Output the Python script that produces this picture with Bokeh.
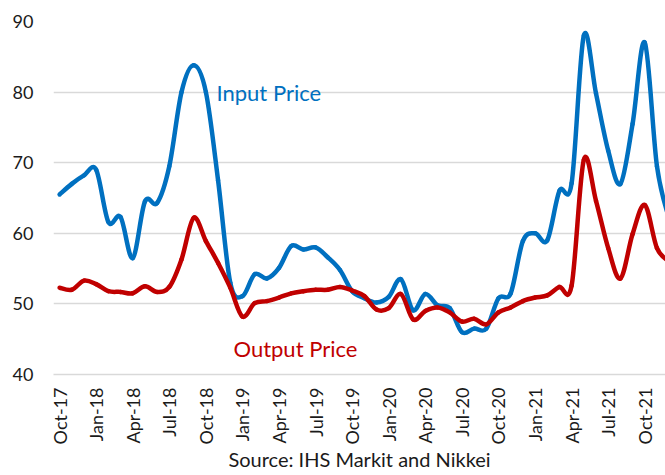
import math
from bokeh.plotting import figure
from bokeh.models import FixedTicker, Range1d
from bokeh.core.properties import value
from bokeh.embed import file_html
from bokeh.resources import INLINE

months = ["Oct-17", "Nov-17", "Dec-17",
          "Jan-18", "Feb-18", "Mar-18", "Apr-18", "May-18", "Jun-18",
          "Jul-18", "Aug-18", "Sep-18", "Oct-18", "Nov-18", "Dec-18",
          "Jan-19", "Feb-19", "Mar-19", "Apr-19", "May-19", "Jun-19",
          "Jul-19", "Aug-19", "Sep-19", "Oct-19", "Nov-19", "Dec-19",
          "Jan-20", "Feb-20", "Mar-20", "Apr-20", "May-20", "Jun-20",
          "Jul-20", "Aug-20", "Sep-20", "Oct-20", "Nov-20", "Dec-20",
          "Jan-21", "Feb-21", "Mar-21", "Apr-21", "May-21", "Jun-21",
          "Jul-21", "Aug-21", "Sep-21", "Oct-21", "Nov-21", "Dec-21"]

input_price = [65.5, 67.0, 68.2,
               69.0, 61.6, 62.3, 56.5, 64.5, 64.3,
               69.5, 80.0, 83.8, 80.0, 67.5, 53.0,
               51.1, 54.2, 53.6, 55.1, 58.2, 57.7,
               58.0, 56.6, 54.8, 51.8, 50.8, 50.2,
               51.0, 53.5, 49.1, 51.4, 49.8, 49.4,
               46.0, 46.5, 46.5, 50.8, 51.5, 58.9,
               60.0, 59.0, 66.0, 67.1, 88.0, 79.8,
               71.7, 67.0, 75.5, 87.0, 69.5, 62.0]

output_price = [52.3, 52.0, 53.3,
                52.8, 51.8, 51.7, 51.5, 52.5, 51.7,
                52.4, 56.3, 62.2, 58.9, 55.8, 52.3,
                48.2, 50.1, 50.4, 50.9, 51.5, 51.8,
                52.0, 52.0, 52.4, 51.9, 51.1, 49.2,
                49.4, 51.4, 47.8, 49.0, 49.5, 48.8,
                47.5, 47.9, 47.1, 48.8, 49.5, 50.4,
                50.9, 51.2, 52.4, 52.6, 70.4, 64.6,
                57.9, 53.6, 59.9, 64.0, 57.9, 56.0]

tick_labels = ["Oct-17", "Jan-18", "Apr-18", "Jul-18", "Oct-18", "Jan-19",
               "Apr-19", "Jul-19", "Oct-19", "Jan-20", "Apr-20", "Jul-20",
               "Oct-20", "Jan-21", "Apr-21", "Jul-21", "Oct-21"]

y_ticks = [40, 50, 60, 70, 80, 90]

series_names = ["Input Price", "Output Price"]
series_colors = ["#0070C0", "#C00000"]
label_pos = [(12.87, 80.0), (14.26, 43.7)]

source_text = "Source: IHS Markit and Nikkei"

FONT = "Lato"

p = figure(width=665, height=475, output_backend="svg", toolbar_location=None,
           x_range=Range1d(-0.5, 49.7), y_range=Range1d(40, 90),
           min_border_left=53, min_border_right=0, min_border_top=21,
           min_border_bottom=101)
p.outline_line_color = None
p.background_fill_color = "white"
p.border_fill_color = "white"

p.xgrid.visible = False
p.ygrid.grid_line_color = "#D9D9D9"
p.ygrid.grid_line_width = 1.5

p.yaxis.ticker = FixedTicker(ticks=y_ticks)
p.yaxis.axis_line_color = None
p.yaxis.major_tick_line_color = None
p.yaxis.minor_tick_line_color = None
p.yaxis.major_tick_out = 0
p.yaxis.major_tick_in = 0
p.yaxis.minor_tick_out = 0
p.yaxis.major_label_standoff = 20
p.yaxis.major_label_text_font = FONT
p.yaxis.major_label_text_font_size = "18px"
p.yaxis.major_label_text_color = "#1a1a1a"

x_index = list(range(len(months)))
tick_pos = [months.index(t) for t in tick_labels]
p.xaxis.ticker = FixedTicker(ticks=tick_pos)
p.xaxis.major_label_overrides = {pos: lab for pos, lab in zip(tick_pos, tick_labels)}
p.xaxis.major_label_orientation = math.pi / 2
p.xaxis.axis_line_color = "#D9D9D9"
p.xaxis.axis_line_width = 1.5
p.xaxis.major_tick_line_color = None
p.xaxis.minor_tick_line_color = None
p.xaxis.major_tick_out = 0
p.xaxis.major_tick_in = 0
p.xaxis.minor_tick_out = 0
p.xaxis.major_label_standoff = 13
p.xaxis.major_label_text_font = FONT
p.xaxis.major_label_text_font_size = "18px"
p.xaxis.major_label_text_color = "#1a1a1a"
p.xaxis.axis_label = source_text
p.xaxis.axis_label_text_font = FONT
p.xaxis.axis_label_text_font_size = "20px"
p.xaxis.axis_label_text_font_style = "normal"
p.xaxis.axis_label_text_color = "#1a1a1a"
p.xaxis.axis_label_standoff = 0


def bezier_segments(xs, ys):
    n = len(xs)
    out = dict(x0=[], y0=[], x1=[], y1=[], cx0=[], cy0=[], cx1=[], cy1=[])
    for i in range(n - 1):
        a = max(i - 1, 0)
        d = min(i + 2, n - 1)
        out["x0"].append(xs[i]); out["y0"].append(ys[i])
        out["x1"].append(xs[i + 1]); out["y1"].append(ys[i + 1])
        out["cx0"].append(xs[i] + (xs[i + 1] - xs[a]) / 6.0)
        out["cy0"].append(ys[i] + (ys[i + 1] - ys[a]) / 6.0)
        out["cx1"].append(xs[i + 1] - (xs[d] - xs[i]) / 6.0)
        out["cy1"].append(ys[i + 1] - (ys[d] - ys[i]) / 6.0)
    return out


for vals, color in zip([input_price, output_price], series_colors):
    seg = bezier_segments(x_index, vals)
    p.bezier(x0=seg["x0"], y0=seg["y0"], x1=seg["x1"], y1=seg["y1"],
             cx0=seg["cx0"], cy0=seg["cy0"], cx1=seg["cx1"], cy1=seg["cy1"],
             line_color=color, line_width=4.5, line_cap="round")

for name, color, (lx, ly) in zip(series_names, series_colors, label_pos):
    p.text(x=[lx], y=[ly], text=[name], text_color=color,
           text_font=value(FONT), text_font_size="22px",
           text_align="left", text_baseline="alphabetic")

open("out.html", "w").write(file_html(p, INLINE))
